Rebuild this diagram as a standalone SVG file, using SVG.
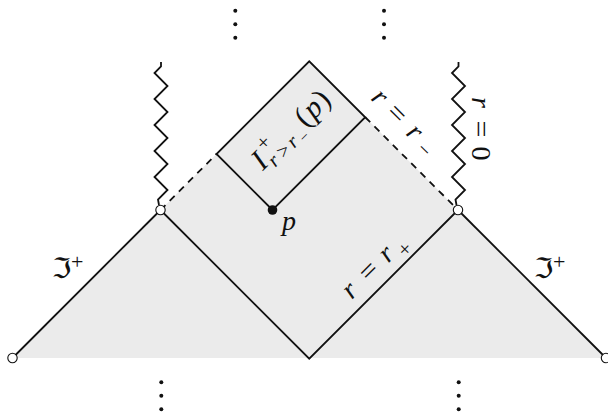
<svg xmlns="http://www.w3.org/2000/svg" width="608" height="414" viewBox="0 0 608 414">
<style>
.ln{fill:none;stroke:#111;stroke-width:1.8;stroke-linejoin:miter}
.dash{fill:none;stroke:#111;stroke-width:1.8;stroke-dasharray:7 6}
.zz{fill:none;stroke:#111;stroke-width:1.8;stroke-linejoin:miter}
.oc{fill:#fff;stroke:#111;stroke-width:1.1}
.dot{fill:#111}
.it{font-family:"Liberation Serif",serif;font-style:italic;fill:#111}
.rm{font-family:"Liberation Serif",serif;fill:#111}
.fr{font-family:"DejaVu Serif","DejaVu Sans",serif;fill:#111}
</style>
<g id="region">
<polygon points="12.5,358 160.5,210 309.25,61.25 458,210 606,358" fill="#ebebeb"/>
</g>
<g id="connectors">
<polyline class="ln" points="12.5,358 160.5,210"/>
<polyline class="ln" points="160.5,210 309.25,358.75 458,210"/>
<polyline class="ln" points="458,210 606,358"/>
<line class="dash" x1="160.5" y1="210" x2="216.5" y2="154"/>
<line class="dash" x1="365.25" y1="117.25" x2="458" y2="210"/>
<polyline class="zz" points="161,62 161,66.5 154.5,73 167.5,86 154.5,99 167.5,112 154.5,125 167.5,138 154.5,151 167.5,164 154.5,177 167.5,190 158,199.5 159,205"/>
<polyline class="zz" points="458.5,62 458.5,66.5 452,73 465,86 452,99 465,112 452,125 465,138 452,151 465,164 452,177 465,190 455.5,199.5 456.5,205"/>
</g>
<g id="future-set">
<polygon class="ln" points="272.5,210 216.5,154 309.25,61.25 365.25,117.25"/>
</g>
<g id="node-left-corner"><circle class="oc" cx="12.5" cy="358" r="4.7"/></g>
<g id="node-right-corner"><circle class="oc" cx="606" cy="358" r="4.7"/></g>
<g id="node-left"><circle class="oc" cx="160.5" cy="210" r="4.7"/></g>
<g id="node-right"><circle class="oc" cx="458" cy="210" r="4.7"/></g>
<g id="node-p"><circle class="dot" cx="272.5" cy="210" r="4.8"/>
<text class="it" x="282" y="230" font-size="28">p</text></g>
<g id="dots">
<circle class="dot" cx="235.3" cy="10.7" r="2"/><circle class="dot" cx="235.3" cy="24.3" r="2"/><circle class="dot" cx="235.3" cy="37.7" r="2"/>
<circle class="dot" cx="384" cy="10.7" r="2"/><circle class="dot" cx="384" cy="24.3" r="2"/><circle class="dot" cx="384" cy="37.7" r="2"/>
<circle class="dot" cx="161.3" cy="382.3" r="2"/><circle class="dot" cx="161.3" cy="395.8" r="2"/><circle class="dot" cx="161.3" cy="409.3" r="2"/>
<circle class="dot" cx="458.7" cy="382.3" r="2"/><circle class="dot" cx="458.7" cy="395.8" r="2"/><circle class="dot" cx="458.7" cy="409.3" r="2"/>
</g>
<g id="labels">
<text class="fr" x="52" y="277.5" font-size="28">ℑ<tspan class="rm" x="71" y="269" font-size="22">+</tspan></text>
<text class="fr" x="534" y="277.5" font-size="28">ℑ<tspan class="rm" x="553" y="269" font-size="22">+</tspan></text>
<g transform="translate(370,99) rotate(45)">
<text class="it" x="0" y="0" font-size="28">r</text>
<text class="rm" x="20.8" y="0" font-size="28" textLength="17" lengthAdjust="spacingAndGlyphs">=</text>
<text class="it" x="49.6" y="0" font-size="28">r</text>
<text class="rm" x="68.5" y="4.5" font-size="21">−</text>
</g>
<g transform="translate(351.7,300) rotate(-45)">
<text class="it" x="0" y="0" font-size="28">r</text>
<text class="rm" x="24" y="0" font-size="28" textLength="17" lengthAdjust="spacingAndGlyphs">=</text>
<text class="it" x="51.6" y="0" font-size="28">r</text>
<text class="rm" x="67.5" y="8.5" font-size="21">+</text>
</g>
<g transform="translate(471.5,97) rotate(90)">
<text class="it" x="0" y="0" font-size="28">r</text>
<text class="rm" x="23.5" y="0" font-size="28" textLength="17" lengthAdjust="spacingAndGlyphs">=</text>
<text class="rm" x="49.5" y="0" font-size="28">0</text>
</g>
<g transform="translate(262.7,171.2) rotate(-45)">
<text class="it" x="0" y="0" font-size="30">I</text>
<text class="rm" x="15" y="-13" font-size="21">+</text>
<text class="it" x="11.4" y="6.5" font-size="20">r</text>
<text class="rm" x="23.5" y="6.5" font-size="20">&gt;</text>
<text class="it" x="38.2" y="6.5" font-size="20">r</text>
<text class="rm" x="49.5" y="10" font-size="15">−</text>
<text class="rm" x="61" y="0" font-size="30">(</text>
<text class="it" x="72.5" y="0" font-size="30">p</text>
<text class="rm" x="88.5" y="0" font-size="30">)</text>
</g>
</g>
</svg>
